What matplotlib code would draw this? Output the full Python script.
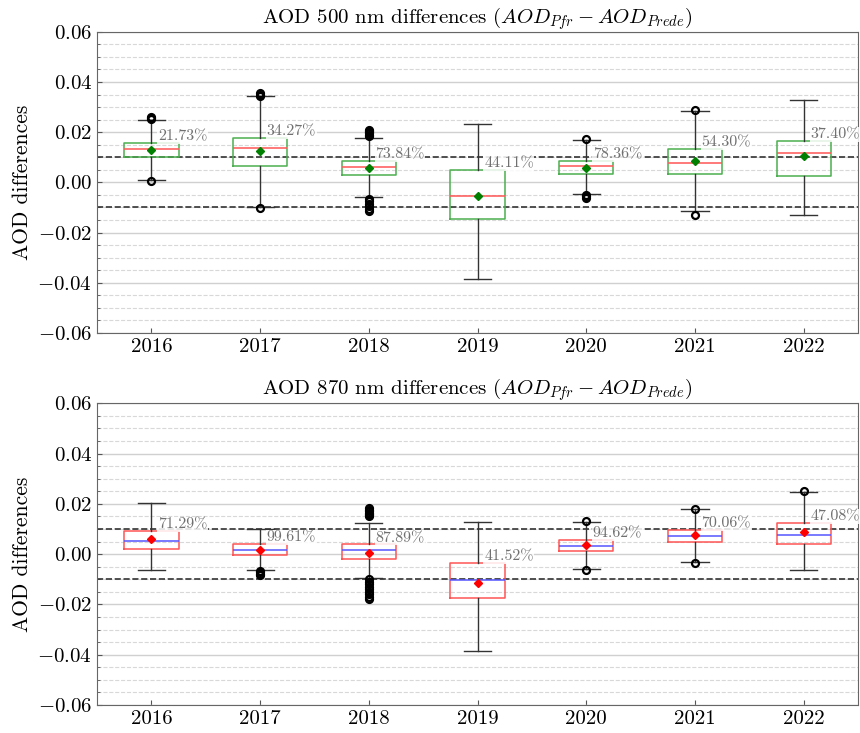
import numpy as np
import matplotlib
matplotlib.use('Agg')
import matplotlib.pyplot as plt
from matplotlib.ticker import MultipleLocator

plt.rcParams['font.family'] = 'serif'
plt.rcParams['font.serif'] = ['cmr10']
plt.rcParams['mathtext.fontset'] = 'cm'
plt.rcParams['axes.formatter.use_mathtext'] = True

years = ['2016', '2017', '2018', '2019', '2020', '2021', '2022']

# AOD 500 nm : statistiques des boites
q1_500 = [0.0102, 0.0066, 0.0029, -0.0146, 0.0033, 0.0032, 0.0026]
med_500 = [0.0134, 0.0135, 0.0062, -0.0053, 0.0064, 0.0077, 0.0118]
q3_500 = [0.0158, 0.0176, 0.0086, 0.0049, 0.0086, 0.0133, 0.0166]
wlo_500 = [0.0009, -0.0097, -0.0057, -0.0386, -0.0045, -0.0113, -0.0130]
whi_500 = [0.0248, 0.0343, 0.0178, 0.0232, 0.0168, 0.0284, 0.0328]
mean_500 = [0.0130, 0.0126, 0.0057, -0.0053, 0.0058, 0.0084, 0.0106]
fl_500 = [
    [0.0252, 0.0256, 0.0260, 0.0004],
    [0.0346, 0.0350, 0.0355, -0.0104],
    [0.0185, 0.0190, 0.0195, 0.0200, 0.0205, 0.0210,
     -0.0065, -0.0075, -0.0085, -0.0095, -0.0105, -0.0115],
    [],
    [0.0172, -0.0050, -0.0055, -0.0062],
    [0.0288, -0.0128],
    [],
]
pct_500 = [21.73, 34.27, 73.84, 44.11, 78.36, 54.30, 37.40]

# AOD 870 nm
q1_870 = [0.0021, -0.0002, -0.0018, -0.0176, 0.0011, 0.0047, 0.0041]
med_870 = [0.0054, 0.0018, 0.0018, -0.0103, 0.0033, 0.0071, 0.0075]
q3_870 = [0.0094, 0.0041, 0.0039, -0.0034, 0.0056, 0.0096, 0.0123]
wlo_870 = [-0.0063, -0.0064, -0.0096, -0.0386, -0.0059, -0.0030, -0.0064]
whi_870 = [0.0202, 0.0100, 0.0125, 0.0129, 0.0129, 0.0180, 0.0247]
mean_870 = [0.0060, 0.0018, 0.0006, -0.0115, 0.0035, 0.0075, 0.0087]
fl_870 = [
    [],
    [-0.0066, -0.0072, -0.0078, -0.0083],
    [0.0150, 0.0155, 0.0160, 0.0165, 0.0170, 0.0175, 0.0182,
     -0.0100, -0.0110, -0.0120, -0.0130, -0.0140, -0.0150, -0.0160, -0.0170, -0.0180],
    [],
    [0.0132, -0.0064],
    [0.0181, -0.0034],
    [0.0251],
]
pct_870 = [71.29, 99.61, 87.89, 41.52, 94.62, 70.06, 47.08]


def stats(q1, med, q3, wlo, whi, mean, fl):
    out = []
    for i in range(len(q1)):
        out.append(dict(q1=q1[i], med=med[i], q3=q3[i], whislo=wlo[i],
                        whishi=whi[i], mean=mean[i], fliers=fl[i]))
    return out


def panel(ax, st, pct, box_col, med_col, mean_col, title):
    pos = np.arange(1, len(st) + 1)
    ax.bxp(st, positions=pos, widths=0.5, showmeans=True,
           boxprops=dict(color=box_col, lw=1.1),
           medianprops=dict(color=med_col, lw=1.1),
           whiskerprops=dict(color='#333333', lw=1),
           capprops=dict(color='#333333', lw=1),
           meanprops=dict(marker='D', markerfacecolor=mean_col,
                          markeredgecolor=mean_col, markersize=4),
           flierprops=dict(marker='o', markerfacecolor='none',
                           markeredgecolor='black', markersize=5, markeredgewidth=1.6))
    for i in range(len(st)):
        ax.text(pos[i] + 0.06, st[i]['q3'] + 0.001, '%.2f%%' % pct[i],
                fontsize=11.5, color='#707070', ha='left', va='baseline',
                bbox=dict(facecolor='white', edgecolor='none', alpha=0.85, pad=0.5))
    ax.axhline(0.01, color='#333333', ls='--', lw=1.2, zorder=1)
    ax.axhline(-0.01, color='#333333', ls='--', lw=1.2, zorder=1)
    ax.set_ylim(-0.06, 0.06)
    ax.set_xlim(0.5, 7.5)
    ax.set_xticks(pos)
    ax.set_xticklabels(years)
    ax.yaxis.set_major_locator(MultipleLocator(0.02))
    ax.yaxis.set_minor_locator(MultipleLocator(0.005))
    ax.grid(which='major', axis='y', color='#d0d0d0', lw=1)
    ax.grid(which='minor', axis='y', color='#d8d8d8', lw=0.8, ls='--')
    ax.set_axisbelow(True)
    ax.tick_params(which='both', direction='in', labelsize=15, color='#555555')
    ax.tick_params(which='minor', length=2)
    for s in ax.spines.values():
        s.set_color('#666666')
    ax.set_ylabel('AOD differences', fontsize=15.5)
    ax.set_title(title, fontsize=15, pad=5)


fig = plt.figure(figsize=(8.6, 7.33), dpi=100)
ax1 = fig.add_axes([0.1128, 0.5457, 0.885, 0.411])
ax2 = fig.add_axes([0.1128, 0.0382, 0.885, 0.4116])

panel(ax1, stats(q1_500, med_500, q3_500, wlo_500, whi_500, mean_500, fl_500), pct_500,
      '#4caf50', '#ff5555', 'green', r'AOD 500 nm differences ($AOD_{Pfr} - AOD_{Prede}$)')
panel(ax2, stats(q1_870, med_870, q3_870, wlo_870, whi_870, mean_870, fl_870), pct_870,
      '#ff5555', '#5555ff', 'red', r'AOD 870 nm differences ($AOD_{Pfr} - AOD_{Prede}$)')

fig.savefig('out.png', dpi=100)
